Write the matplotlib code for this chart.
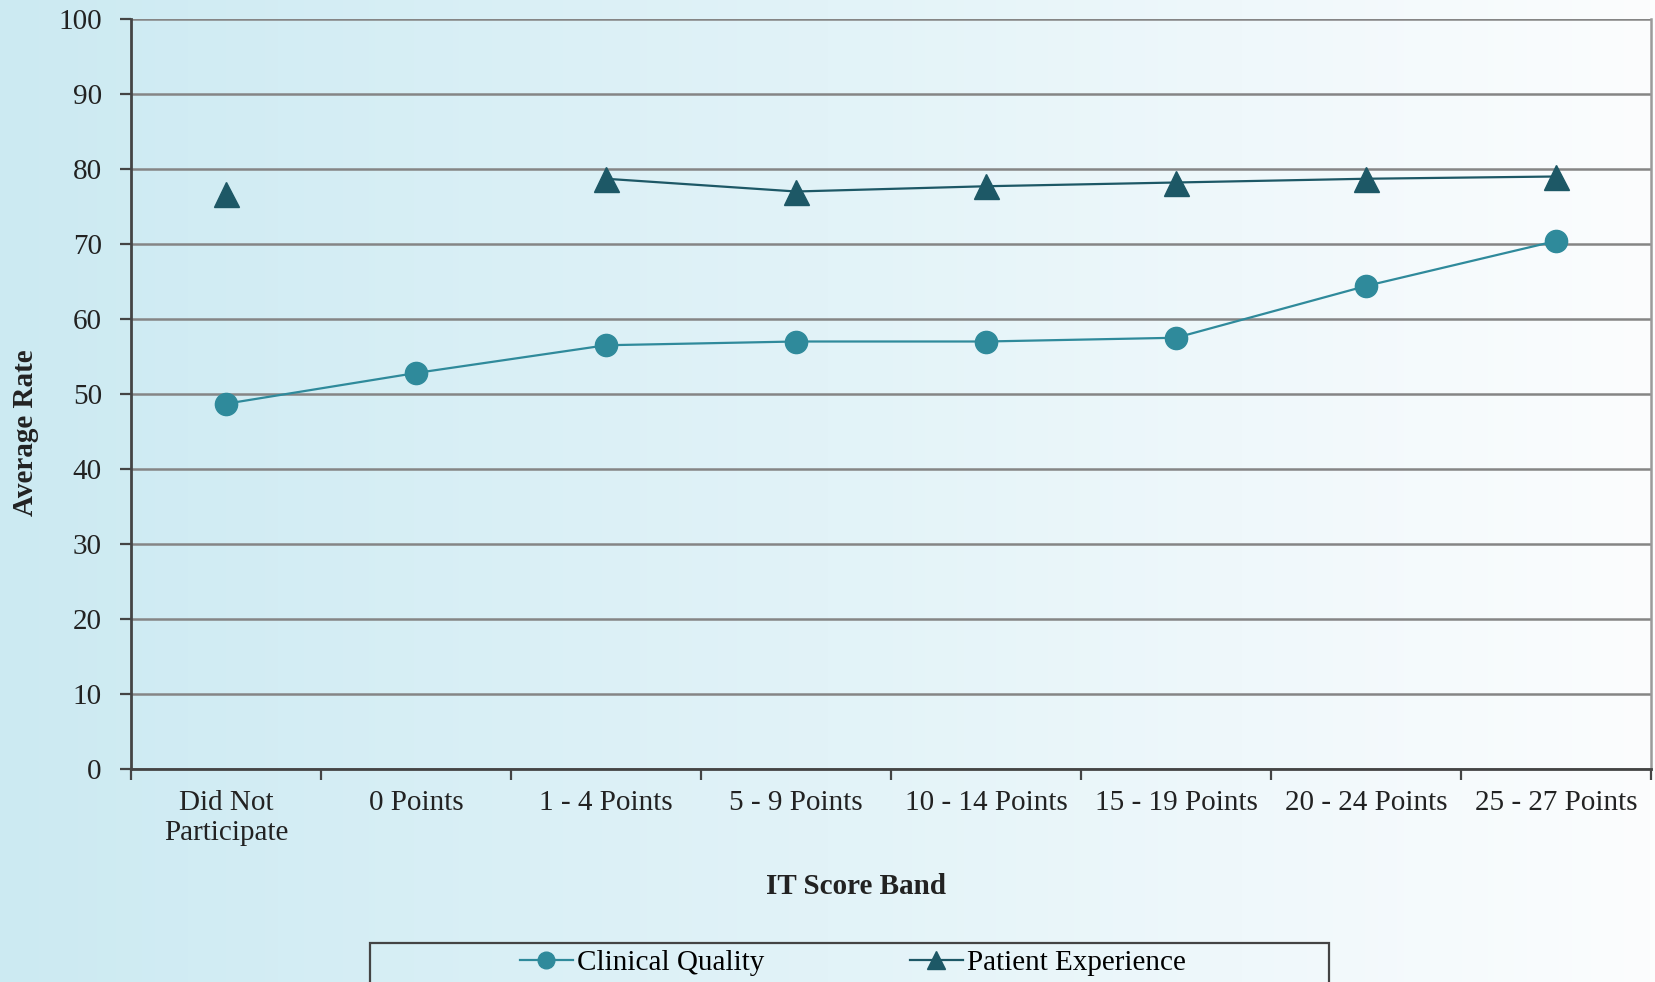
import numpy as np
import matplotlib.pyplot as plt
from matplotlib.colors import LinearSegmentedColormap
from matplotlib.patches import Rectangle

bands = ["Did Not\nParticipate", "0 Points", "1 - 4 Points", "5 - 9 Points",
         "10 - 14 Points", "15 - 19 Points", "20 - 24 Points", "25 - 27 Points"]
clinical_quality = [48.7, 52.8, 56.5, 57.0, 57.0, 57.5, 64.4, 70.4]
patient_experience = [76.7, np.nan, 78.7, 77.0, 77.7, 78.2, 78.7, 79.0]

plt.rcParams["font.family"] = ["Liberation Serif", "DejaVu Serif"]
FS = 21

fig = plt.figure(figsize=(16.56, 9.82), dpi=100)

# horizontal background wash, light blue fading to white
bg = fig.add_axes([0, 0, 1, 1], zorder=-10)
cmap = LinearSegmentedColormap.from_list("wash", ["#cceaf2", "#e2f3f8", "#fcfdfe"])
bg.imshow(np.linspace(0, 1, 256).reshape(1, -1), aspect="auto", cmap=cmap,
          extent=[0, 1, 0, 1])
bg.axis("off")

ax = fig.add_axes([131 / 1656, 1 - 769 / 982, (1651 - 131) / 1656, (769 - 19) / 982])
ax.patch.set_alpha(0)

x = np.arange(len(bands))
ax.plot(x, clinical_quality, color="#2f8a9b", lw=1.6, marker="o", ms=16,
        markerfacecolor="#2f8a9b", markeredgecolor="#2f8a9b", label="Clinical Quality",
        zorder=3)
ax.plot(x, patient_experience, color="#1d5866", lw=1.6, marker="^", ms=18,
        markerfacecolor="#1d5866", markeredgecolor="#1d5866", label="Patient Experience",
        zorder=3)

ax.set_xlim(-0.5, len(bands) - 0.5)
ax.set_ylim(0, 100)
ax.set_yticks(np.arange(0, 101, 10))
ax.yaxis.grid(True, color="#858585", lw=1.8)
ax.set_axisbelow(True)

# category ticks at the band boundaries, labels centred in each band
ax.set_xticks(np.arange(-0.5, len(bands), 1))
ax.set_xticklabels([])
ax.set_xticks(x, minor=True)
ax.set_xticklabels(bands, minor=True, fontsize=FS, color="#222222")
ax.tick_params(axis="x", which="minor", length=0, pad=15)
ax.tick_params(axis="x", which="major", length=8, width=1.6, color="#444444")
ax.tick_params(axis="y", length=8, width=1.6, color="#444444", labelsize=FS,
               labelcolor="#222222", pad=13)

for side in ["left", "bottom"]:
    ax.spines[side].set_color("#444444")
    ax.spines[side].set_linewidth(2)
ax.spines["right"].set_color("#9a9a9a")
ax.spines["right"].set_linewidth(1.8)
ax.spines["top"].set_visible(False)

fig.text(26 / 1656, 1 - 433 / 982, "Average Rate", rotation=90, ha="center",
         va="center", fontsize=FS, fontweight="bold", color="#222222")
fig.text(856 / 1656, 1 - 887 / 982, "IT Score Band", ha="center", va="center",
         fontsize=FS, fontweight="bold", color="#222222")

# legend box runs off the bottom edge
fig.patches.append(Rectangle((370 / 1656, -0.05), (1329 - 370) / 1656, 0.05 + 39 / 982,
                             transform=fig.transFigure, facecolor="none",
                             edgecolor="#444444", lw=1.6))
handles, labels = ax.get_legend_handles_labels()
fig.legend(handles, labels, loc="center", bbox_to_anchor=(853 / 1656, 1 - 963 / 982),
           ncol=2, frameon=False, fontsize=FS, handlelength=1.8, handletextpad=0.15,
           columnspacing=5.0, markerscale=0.75)

fig.savefig("out.png", dpi=100)
